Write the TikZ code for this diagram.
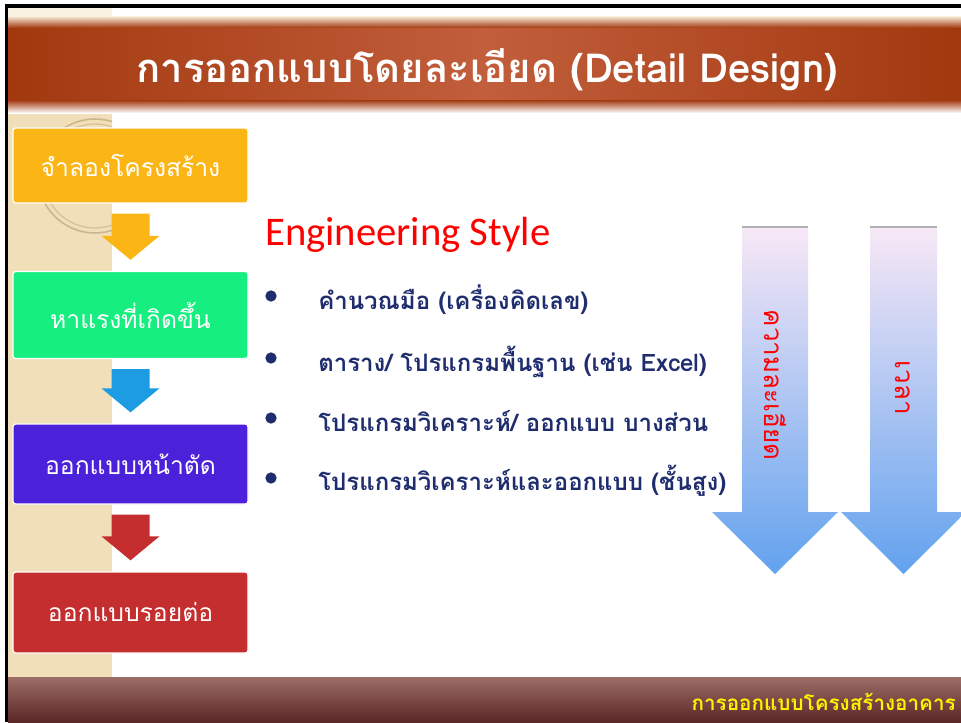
\documentclass[tikz,border=0pt]{standalone}
\usepackage{fontspec}
\newfontfamily\thai[Script=Thai]{Loma}
\newfontfamily\lat{Carlito}
\usetikzlibrary{calc}
\definecolor{beige}{HTML}{F0DFB8}
\definecolor{ringc}{HTML}{CDB68E}
\definecolor{tdark}{HTML}{A2380E}
\definecolor{tlight}{HTML}{C25E3C}
\definecolor{orangeb}{HTML}{FBB615}
\definecolor{greenb}{HTML}{16EE80}
\definecolor{purpleb}{HTML}{4B22DA}
\definecolor{redb}{HTML}{C42E2E}
\definecolor{bluea}{HTML}{1E9CE3}
\definecolor{navy}{HTML}{1F2D6E}
\definecolor{atop}{HTML}{F8E8F6}
\definecolor{abot}{HTML}{62A2EE}
\definecolor{ftop}{HTML}{9C6E66}
\definecolor{fbot}{HTML}{5A2626}
\begin{document}
\begin{tikzpicture}[x=0.75pt,y=-0.75pt,
  stepbox/.style={draw=white,line width=1pt,rounded corners=2pt,minimum width=176.25pt,
    text=white,font=\thai\fontsize{18.5}{20}\selectfont,inner sep=0pt},
  bulletdot/.style={circle,fill=navy,inner sep=0pt,minimum size=8.5pt},
  itemtext/.style={anchor=base west,text=navy,font=\thai\bfseries\fontsize{18}{20}\selectfont,inner sep=0pt},
  vtext/.style={rotate=-90,text=red,font=\thai\fontsize{19.5}{22}\selectfont,inner sep=0pt}]
\useasboundingbox (0,0) rectangle (961,722);
\fill[white] (0,0) rectangle (961,722);
% beige column
\fill[beige] (8,8) rectangle (112,677);
\fill[white!60!beige] (8,8) rectangle (112,20);
\begin{scope}
  \clip (8,110) rectangle (112,677);
  \draw[ringc,line width=1.2pt] (95,176) circle (57);
  \draw[ringc!70!beige,line width=1pt] (95,176) circle (52);
\end{scope}
% title band
\shade[top color=white!50!beige,bottom color=tdark] (8,16) rectangle (961,28);
\shade[left color=tdark,right color=tdark,middle color=tlight] (8,28) rectangle (961,100);
\shade[top color=tdark,bottom color=white] (8,100) rectangle (961,113);
\node[text=white,font=\thai\bfseries\fontsize{30}{34}\selectfont,inner sep=0pt] (title) at (487,70)
  {การออกแบบโดยละเอียด (Detail Design)};
% frame
\draw[black,line width=2.5pt] (6.5,722) -- (6.5,6) -- (961,6);
% step boxes
\node[stepbox,fill=orangeb,minimum height=56.25pt] (b1) at (130.5,165.5) {จำลองโครงสร้าง};
\node[stepbox,fill=greenb,minimum height=65.25pt] (b2) at (130.5,315) {หาแรงที่เกิดขึ้น};
\node[stepbox,fill=purpleb,minimum height=60pt] (b3) at (130.5,464) {ออกแบบหน้าตัด};
\node[stepbox,fill=redb,minimum height=60.75pt] (b4) at (130.5,612.5) {ออกแบบรอยต่อ};
% step arrows
\foreach \a/\b/\c in {b1/b2/orangeb,b2/b3/bluea,b3/b4/redb}{
  \fill[\c] ($(\a.south)+(-19,10)$) -- ($(\a.south)+(19,10)$) -- ($(\b.north)+(19,-35)$)
    -- ($(\b.north)+(29,-35)$) -- ($(\b.north)+(0,-11)$) -- ($(\b.north)+(-29,-35)$)
    -- ($(\b.north)+(-19,-35)$) -- cycle;
}
% heading
\node[anchor=base west,text=red,font=\lat\fontsize{30.5}{34}\selectfont,inner sep=0pt] (eng) at (265,245) {Engineering Style};
% bullets
\node[bulletdot] (d1) at (271,296) {};
\node[bulletdot] (d2) at (271,358) {};
\node[bulletdot] (d3) at (271,418) {};
\node[bulletdot] (d4) at (271,478) {};
\node[itemtext] (i1) at (318,309) {คำนวณมือ (เครื่องคิดเลข)};
\node[itemtext] (i2) at (318,371) {ตาราง/ โปรแกรมพื้นฐาน (เช่น Excel)};
\node[itemtext] (i3) at (318,431) {โปรแกรมวิเคราะห์/ ออกแบบ บางส่วน};
\node[itemtext] (i4) at (318,490) {โปรแกรมวิเคราะห์และออกแบบ (ชั้นสูง)};
% big arrows
\shade[top color=atop,bottom color=abot] (742,227) -- (808,227) -- (808,512) -- (838,512)
  -- (775,574) -- (712,512) -- (742,512) -- cycle;
\draw[gray!60,line width=0.8pt] (742,227) -- (808,227);
\shade[top color=atop,bottom color=abot] (870,227) -- (937,227) -- (937,512) -- (966,512)
  -- (903.5,574) -- (841,512) -- (870,512) -- cycle;
\draw[gray!60,line width=0.8pt] (870,227) -- (937,227);
\node[vtext] (v1) at (775,385) {ความละเอียด};
\node[vtext] (v2) at (903,388) {เวลา};
% footer
\shade[top color=ftop,bottom color=fbot] (8,677) rectangle (961,722);
\draw[black,line width=2.5pt] (6.5,677) -- (6.5,722);
\node[anchor=east,text=yellow,font=\thai\bfseries\fontsize{15.5}{18}\selectfont,inner sep=0pt] (foot) at (956,702) {การออกแบบโครงสร้างอาคาร};
\end{tikzpicture}
\end{document}
